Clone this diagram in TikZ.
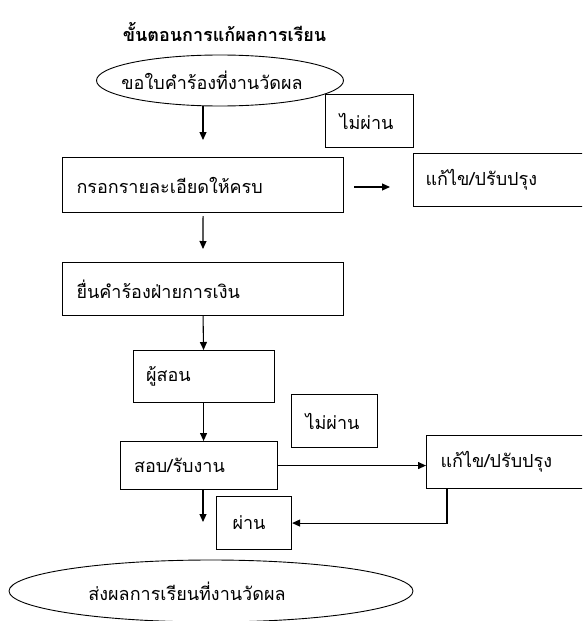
\documentclass[tikz,border=0pt]{standalone}
\usepackage{fontspec}
\newfontfamily\thaifont[Script=Thai]{Loma}
\usetikzlibrary{arrows.meta,positioning,shapes.geometric}

\begin{document}
\begin{tikzpicture}[
  x=1pt, y=-1pt,
  font=\thaifont\fontsize{18}{20}\selectfont,
  stepbox/.style 2 args={draw, line width=1.1pt, anchor=north west, inner xsep=14pt, inner ysep=0pt, align=left, text width=#1, minimum height=#2},
  capsule/.style={draw, ellipse, line width=0.9pt, inner sep=0pt},
  arrow/.style={-{Triangle[length=8pt,width=7pt]}, line width=1.1pt}
]
\useasboundingbox (0,0) rectangle (582,621);
\clip (0,0) rectangle (582,621);

\node[font=\thaifont\bfseries\fontsize{18}{20}\selectfont] (title) at (224.5,32) {ขั้นตอนการแก้ผลการเรียน};
\node[capsule, minimum width=247pt, minimum height=51pt] (askform) at (220,80.5) {\hspace*{-40pt}ขอใบคำร้องที่งานวัดผล\hspace*{-24pt}};

\node[stepbox={60pt}{53pt}] (failtop) at (325,94) {ไม่ผ่าน};
\node[stepbox={253pt}{55pt}] (fillform) at (62,157) {กรอกรายละเอียดให้ครบ};
\node[stepbox={160pt}{53pt}, inner xsep=12pt] (fixtop) at (413,153) {แก้ไข/ปรับปรุง};
\node[stepbox={253pt}{53pt}] (finance) at (62,262) {ยื่นคำร้องฝ่ายการเงิน};
\node[stepbox={115pt}{52pt}, inner xsep=13pt] (teacher) at (132.5,350) {ผู้สอน};
\node[stepbox={58pt}{53pt}] (failbottom) at (291,394) {ไม่ผ่าน};
\node[stepbox={129pt}{48pt}] (exam) at (119.5,441) {สอบ/รับงาน};
\node[stepbox={160pt}{53pt}] (fixbottom) at (426,435) {แก้ไข/ปรับปรุง};
\node[stepbox={43pt}{53pt}, inner xsep=16pt] (pass) at (216,496) {ผ่าน};
\node[capsule, minimum width=404pt, minimum height=62pt] (sendgrade) at (211,591) {\hspace*{-48pt}ส่งผลการเรียนที่งานวัดผล};

% free ends
\coordinate (askend) at (203,140);
\coordinate (fillend) at (203,249);
\coordinate (fwdfrom) at (354,187);
\coordinate (fwdto) at (390,187);
\coordinate (passend) at (203,522);
\coordinate (backturn) at (447,523);

\draw[arrow] (askform.south -| askend) -- (askend);
\draw[arrow] (fwdfrom) -- (fwdto);
\draw[arrow] ([yshift=-3pt]fillform.south) -- (fillend);
\draw[arrow] (finance.south) -- (teacher.north);
\draw[arrow] (teacher.south) -- (teacher.south |- exam.north);
\draw[arrow] (exam.east) -- (exam.east -| fixbottom.west);
\draw[arrow] (exam.south -| passend) -- (passend);
\draw[arrow] (fixbottom.south -| backturn) |- (pass.east);
\end{tikzpicture}
\end{document}
